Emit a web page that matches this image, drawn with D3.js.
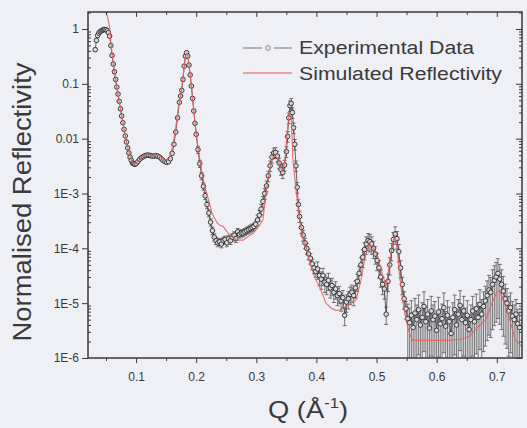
<!DOCTYPE html>
<html><head><meta charset="utf-8">
<script src="https://cdn.jsdelivr.net/npm/d3@7"></script>
<style>body{margin:0;background:#efeff6;} svg{display:block}</style>
</head><body><svg id="c" width="527" height="428"></svg>
<script>
// ---- data ----
const expQ = [0.032,0.034,0.036,0.038,0.040,0.042,0.044,0.046,0.048,0.050,0.052,0.054,0.056,0.058,0.060,0.062,0.064,0.066,0.068,0.070,0.072,0.074,0.076,0.078,0.080,0.082,0.084,0.086,0.088,0.090,0.092,0.094,0.096,0.098,0.100,0.103,0.106,0.109,0.112,0.115,0.118,0.121,0.124,0.127,0.130,0.133,0.136,0.139,0.142,0.145,0.148,0.151,0.154,0.157,0.160,0.163,0.166,0.169,0.172,0.174,0.176,0.178,0.180,0.182,0.184,0.186,0.188,0.190,0.192,0.194,0.196,0.198,0.200,0.203,0.206,0.209,0.212,0.215,0.218,0.221,0.224,0.227,0.230,0.233,0.236,0.239,0.242,0.245,0.248,0.251,0.254,0.257,0.260,0.263,0.266,0.269,0.272,0.275,0.278,0.281,0.284,0.287,0.290,0.293,0.296,0.299,0.302,0.305,0.308,0.311,0.314,0.317,0.320,0.323,0.326,0.329,0.332,0.335,0.338,0.341,0.344,0.347,0.350,0.352,0.354,0.356,0.358,0.360,0.362,0.364,0.366,0.368,0.370,0.372,0.375,0.378,0.381,0.384,0.387,0.390,0.393,0.396,0.399,0.402,0.405,0.408,0.411,0.414,0.417,0.420,0.423,0.426,0.429,0.432,0.435,0.438,0.441,0.444,0.447,0.450,0.453,0.456,0.459,0.462,0.465,0.468,0.471,0.474,0.477,0.480,0.483,0.486,0.489,0.492,0.495,0.498,0.501,0.504,0.507,0.510,0.513,0.516,0.519,0.522,0.525,0.528,0.531,0.534,0.537,0.540,0.543,0.546,0.549,0.552,0.555,0.558,0.561,0.564,0.567,0.570,0.573,0.576,0.579,0.582,0.585,0.588,0.591,0.594,0.597,0.600,0.603,0.606,0.609,0.612,0.615,0.618,0.621,0.624,0.627,0.630,0.633,0.636,0.639,0.642,0.645,0.648,0.651,0.654,0.657,0.660,0.663,0.666,0.669,0.672,0.675,0.678,0.681,0.684,0.687,0.690,0.693,0.696,0.699,0.702,0.705,0.708,0.711,0.714,0.717,0.720,0.723,0.726,0.729,0.732,0.735,0.738];
const expR = [0.42,0.62,0.76,0.84,0.89,0.92,0.95,0.97,0.98,0.97,0.93,0.86,0.74,0.50,0.33,0.23,0.166,0.12,0.087,0.065,0.048,0.035,0.026,0.0195,0.0148,0.0112,0.0087,0.0068,0.0055,0.0046,0.0040,0.0036,0.0035,0.0034,0.0035,0.0038,0.0042,0.0045,0.0047,0.0049,0.0050,0.0050,0.0049,0.0048,0.0048,0.0049,0.0048,0.0046,0.0043,0.0040,0.0038,0.0037,0.0038,0.0043,0.0054,0.0079,0.0132,0.024,0.046,0.060,0.076,0.12,0.21,0.32,0.37,0.32,0.22,0.145,0.091,0.054,0.032,0.019,0.012,0.0063,0.0035,0.0021,0.00135,0.00091,0.00063,0.00044,0.00030,0.00021,0.00016,0.000138,0.000126,0.000132,0.00012,0.000138,0.000145,0.000126,0.00015,0.000138,0.00016,0.000174,0.00015,0.00020,0.00018,0.00019,0.00019,0.00020,0.00021,0.00022,0.00023,0.00024,0.00025,0.000275,0.00033,0.00040,0.00052,0.00072,0.00100,0.00138,0.0021,0.0032,0.0046,0.0055,0.0056,0.0048,0.0036,0.00275,0.0024,0.0033,0.0058,0.011,0.024,0.040,0.044,0.030,0.0158,0.0079,0.0032,0.0013,0.00063,0.00038,0.00024,0.000174,0.000126,0.000100,0.000079,0.000066,0.000052,0.000044,0.000038,0.000042,0.000032,0.0000275,0.000032,0.000024,0.000022,0.000026,0.000019,0.000021,0.0000158,0.0000182,0.0000138,0.000015,0.000011,0.0000126,0.000006,0.0000105,0.000012,0.0000145,0.0000158,0.0000138,0.000019,0.000025,0.000035,0.000050,0.000069,0.000095,0.00012,0.000138,0.000132,0.00012,0.00010,0.000079,0.000060,0.000044,0.000030,0.000022,0.0000182,0.0000063,0.000025,0.000050,0.000091,0.000145,0.000182,0.00015,0.000087,0.000044,0.000022,0.000012,0.0000079,0.0000052,0.0000044,0.0000060,0.0000036,0.0000066,0.0000050,0.0000076,0.0000040,0.0000055,0.0000087,0.0000046,0.0000063,0.0000035,0.0000072,0.0000050,0.0000058,0.0000032,0.0000069,0.0000042,0.0000052,0.0000083,0.0000038,0.0000060,0.0000046,0.0000028,0.0000055,0.0000076,0.0000040,0.0000063,0.0000091,0.0000050,0.0000072,0.0000044,0.0000060,0.0000033,0.0000050,0.0000072,0.0000046,0.0000079,0.0000055,0.0000095,0.0000063,0.0000087,0.000011,0.0000138,0.0000174,0.0000158,0.000022,0.000026,0.000030,0.000035,0.0000275,0.000022,0.0000166,0.000012,0.000010,0.0000072,0.0000083,0.0000058,0.0000050,0.0000063,0.0000042,0.0000036];
// relative error of the experimental data, by Q band (band upper limits)
const errBandQ = [0.2, 0.3, 0.4, 0.55, 0.75];
const errBandFrac = [0.04, 0.15, 0.22, 0.35, 0.85];

const simQ = [0.020,0.045,0.050,0.053,0.056,0.058,0.060,0.062,0.065,0.070,0.075,0.080,0.085,0.090,0.095,0.100,0.105,0.110,0.115,0.120,0.125,0.130,0.135,0.140,0.145,0.150,0.155,0.158,0.162,0.166,0.170,0.174,0.178,0.182,0.184,0.186,0.190,0.194,0.198,0.202,0.206,0.210,0.214,0.218,0.222,0.226,0.230,0.235,0.240,0.245,0.250,0.255,0.260,0.265,0.270,0.278,0.285,0.295,0.305,0.311,0.316,0.320,0.322,0.326,0.331,0.336,0.340,0.344,0.348,0.352,0.355,0.358,0.361,0.366,0.372,0.378,0.383,0.390,0.398,0.405,0.416,0.425,0.433,0.440,0.449,0.458,0.466,0.474,0.481,0.488,0.495,0.502,0.509,0.516,0.522,0.527,0.530,0.534,0.538,0.543,0.549,0.555,0.560,0.580,0.600,0.620,0.640,0.655,0.668,0.681,0.692,0.700,0.705,0.710,0.715,0.722,0.731,0.742];
const simR = [2.5,2.4,2.0,1.6,1.05,0.60,0.36,0.24,0.14,0.062,0.030,0.0150,0.0078,0.0047,0.0036,0.0035,0.0040,0.0046,0.0050,0.0051,0.0050,0.0049,0.0050,0.0048,0.0043,0.0041,0.0044,0.0056,0.0085,0.016,0.035,0.058,0.13,0.31,0.36,0.33,0.15,0.056,0.020,0.0085,0.0042,0.0023,0.00135,0.00095,0.00068,0.00045,0.00036,0.00029,0.00026,0.00025,0.00021,0.00018,0.00016,0.000148,0.00014,0.000141,0.00016,0.00019,0.00026,0.00033,0.0010,0.0019,0.0027,0.0042,0.0050,0.0042,0.0030,0.0025,0.0045,0.016,0.030,0.026,0.0041,0.0012,0.00032,0.00015,0.000105,0.000050,0.000028,0.000020,0.000010,0.0000080,0.0000074,0.0000076,0.0000085,0.0000100,0.0000115,0.000026,0.000070,0.000123,0.000100,0.000071,0.000036,0.000020,0.000058,0.000130,0.000162,0.000110,0.000035,0.000012,0.0000049,0.0000028,0.0000021,0.0000021,0.0000021,0.0000021,0.0000022,0.0000025,0.0000036,0.0000049,0.0000100,0.0000158,0.0000170,0.0000120,0.0000085,0.0000048,0.0000021,0.0000016];

const xTicks = [0.1,0.2,0.3,0.4,0.5,0.6,0.7];
const xMinorTicks = [0.05,0.15,0.25,0.35,0.45,0.55,0.65];
const yTicks = [1,0.1,0.01,1e-3,1e-4,1e-5,1e-6];
const yTickLabels = ["1","0.1","0.01","1E-3","1E-4","1E-5","1E-6"];
const seriesNames = ["Experimental Data","Simulated Reflectivity"];

// ---- layout ----
const L = 88, R = 522, T = 12, B = 358;
const FONT = "'Liberation Sans', Arial, sans-serif";
const ink = "#3a3a3a";
const svg = d3.select("#c");
svg.append("rect").attr("width",527).attr("height",428).attr("fill","#efeff6");

const x = d3.scaleLinear().domain([0.02, 0.742]).range([L, R]);
const y = d3.scaleLog().domain([1e-6, 2.04]).range([B, T]);

svg.append("clipPath").attr("id","clip").append("rect")
  .attr("x",L).attr("y",T).attr("width",R-L).attr("height",B-T);

const pts = expQ.map((q,i)=>{
  let k = errBandQ.findIndex(b=>q<=b); if(k<0) k=errBandQ.length-1;
  const e = expR[i]*errBandFrac[k];
  return {q, r:expR[i], lo:Math.max(expR[i]-e, 1e-7), hi:expR[i]+e};
});

const plot = svg.append("g").attr("clip-path","url(#clip)");

// error bars
const eb = plot.append("g").attr("stroke","#555").attr("stroke-width",0.8).attr("fill","none");
pts.forEach(p=>{
  const yl = y(p.lo), yh = y(p.hi), xx = x(p.q);
  if (yl - yh < 3) return;
  eb.append("line").attr("x1",xx).attr("x2",xx).attr("y1",yl).attr("y2",yh);
  eb.append("line").attr("x1",xx-2).attr("x2",xx+2).attr("y1",yh).attr("y2",yh);
  eb.append("line").attr("x1",xx-2).attr("x2",xx+2).attr("y1",yl).attr("y2",yl);
});

// experimental connecting line
plot.append("path").datum(pts)
  .attr("d", d3.line().x(d=>x(d.q)).y(d=>y(d.r)))
  .attr("fill","none").attr("stroke","#444").attr("stroke-width",0.8);

// markers
plot.append("g").selectAll("circle").data(pts).join("circle")
  .attr("cx",d=>x(d.q)).attr("cy",d=>y(d.r)).attr("r",2.3)
  .attr("fill","#d8d8dc").attr("stroke","#2a2a2a").attr("stroke-width",0.9);

// simulated line
plot.append("path").datum(simQ.map((q,i)=>({q, r:simR[i]})))
  .attr("d", d3.line().x(d=>x(d.q)).y(d=>y(d.r)))
  .attr("fill","none").attr("stroke","#e5605c").attr("stroke-width",1.1).attr("opacity",0.9);

// ---- axes ----
function styleAxis(g){
  g.select(".domain").remove();
  g.selectAll("line").attr("stroke",ink).attr("stroke-width",1);
  g.selectAll("text").attr("fill",ink).attr("font-family",FONT).attr("font-size",12);
}
const yMinor = y.ticks().filter(v=>!yTicks.some(t=>Math.abs(Math.log10(v)-Math.log10(t))<1e-6));

// bottom
svg.append("g").attr("transform",`translate(0,${B})`)
  .call(d3.axisBottom(x).tickValues(xTicks).tickSize(5).tickPadding(9).tickFormat(d3.format(".1f"))).call(styleAxis);
svg.append("g").attr("transform",`translate(0,${B})`)
  .call(d3.axisBottom(x).tickValues(xMinorTicks).tickSize(3).tickFormat("")).call(styleAxis);
// top (inward)
svg.append("g").attr("transform",`translate(0,${T})`)
  .call(d3.axisBottom(x).tickValues(xTicks).tickSize(5).tickFormat("")).call(styleAxis);
svg.append("g").attr("transform",`translate(0,${T})`)
  .call(d3.axisBottom(x).tickValues(xMinorTicks).tickSize(3).tickFormat("")).call(styleAxis);
// left
svg.append("g").attr("transform",`translate(${L},0)`)
  .call(d3.axisLeft(y).tickValues(yTicks).tickSize(6).tickPadding(3).tickFormat((d,i)=>yTickLabels[i])).call(styleAxis);
svg.append("g").attr("transform",`translate(${L},0)`)
  .call(d3.axisRight(y).tickValues(yMinor).tickSize(3).tickFormat("")).call(styleAxis);
// right (inward)
svg.append("g").attr("transform",`translate(${R},0)`)
  .call(d3.axisLeft(y).tickValues(yTicks).tickSize(6).tickFormat("")).call(styleAxis);
svg.append("g").attr("transform",`translate(${R},0)`)
  .call(d3.axisLeft(y).tickValues(yMinor).tickSize(3).tickFormat("")).call(styleAxis);

// frame
svg.append("rect").attr("x",L).attr("y",T).attr("width",R-L).attr("height",B-T)
  .attr("fill","none").attr("stroke",ink).attr("stroke-width",1.5);

// ---- titles ----
svg.append("text").attr("transform","translate(31,202) rotate(-90)")
  .attr("text-anchor","middle").attr("font-family",FONT).attr("font-size",25)
  .attr("fill",ink).attr("textLength",279).attr("lengthAdjust","spacingAndGlyphs")
  .text("Normalised Reflectivity");

const xt = svg.append("g").attr("transform","translate(308,418) scale(1.19,1)")
  .append("text").attr("text-anchor","middle").attr("font-family",FONT).attr("font-size",23).attr("fill",ink);
xt.append("tspan").text("Q (Å");
xt.append("tspan").attr("font-size",14).attr("dy",-10).text("-1");
xt.append("tspan").attr("dy",10).text(")");

// ---- legend ----
const lg = svg.append("g");
lg.append("line").attr("x1",243).attr("x2",262).attr("y1",48).attr("y2",48).attr("stroke","#888").attr("stroke-width",1.2);
lg.append("line").attr("x1",274).attr("x2",292).attr("y1",48).attr("y2",48).attr("stroke","#888").attr("stroke-width",1.2);
lg.append("circle").attr("cx",268).attr("cy",48).attr("r",2.3).attr("fill","#efeff6").attr("stroke","#888");
lg.append("line").attr("x1",243).attr("x2",292).attr("y1",73).attr("y2",73).attr("stroke","#e98a86").attr("stroke-width",1.3);
lg.append("text").attr("x",299).attr("y",54).attr("font-family",FONT).attr("font-size",18).attr("fill",ink)
  .attr("textLength",175).attr("lengthAdjust","spacingAndGlyphs").text(seriesNames[0]);
lg.append("text").attr("x",299).attr("y",80).attr("font-family",FONT).attr("font-size",18).attr("fill",ink)
  .attr("textLength",203).attr("lengthAdjust","spacingAndGlyphs").text(seriesNames[1]);
</script></body></html>
